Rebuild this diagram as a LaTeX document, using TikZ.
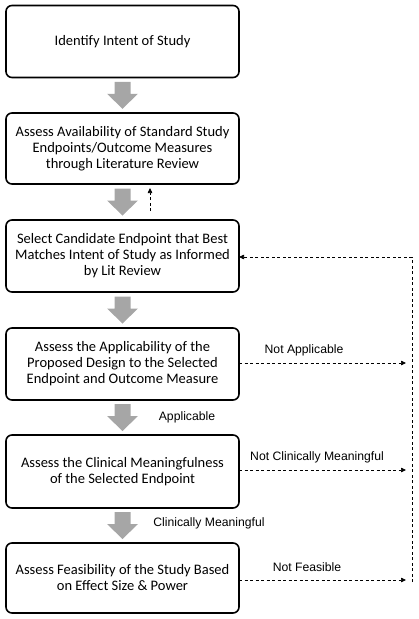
\documentclass[tikz,border=0pt]{standalone}
\usepackage{fontspec}
\setmainfont{Carlito}
\newfontfamily\labfont{Liberation Sans}
\usetikzlibrary{calc,arrows.meta}
\definecolor{garrowc}{HTML}{A6A6A6}
\tikzset{
  box/.style={draw, line width=1.6pt, rounded corners=6pt, minimum width=233pt, minimum height=72pt,
    align=center, font=\fontsize{14.5}{16}\selectfont, inner sep=2pt, outer sep=0pt},
  lab/.style={font=\labfont\fontsize{12.2}{14}\selectfont, inner sep=0pt},
  dline/.style={dashed, line width=0.7pt, dash pattern=on 3pt off 2.5pt},
  dtip/.style={-{Triangle[length=5pt,width=4.5pt]}}
}
\newcommand{\grayarrow}[2]{%
  \path (#1.south) -- (#2.north) coordinate[midway] (m#1#2);
  \fill[garrowc] ($(m#1#2)+(-8,-13.5)$) -- ($(m#1#2)+(8,-13.5)$) -- ($(m#1#2)+(8,-1.5)$) -- ($(m#1#2)+(15.5,-1.5)$)
     -- ($(m#1#2)+(0,13.5)$) -- ($(m#1#2)+(-15.5,-1.5)$) -- ($(m#1#2)+(-8,-1.5)$) -- cycle;}
\begin{document}
\begin{tikzpicture}[x=1pt,y=-1pt]
\useasboundingbox (0,0) rectangle (419,619);
\node[box] (b1) at (122.5,41.5) {Identify Intent of Study};
\node[box,minimum height=71pt] (b2) at (122.5,148.5) {Assess Availability of Standard Study\\Endpoints/Outcome Measures\\through Literature Review};
\node[box] (b3) at (122.5,256) {Select Candidate Endpoint that Best\\Matches Intent of Study as Informed\\by Lit Review};
\node[box] (b4) at (122.5,364) {Assess the Applicability of the\\Proposed Design to the Selected\\Endpoint and Outcome Measure};
\node[box,minimum height=73pt] (b5) at (122.5,471.5) {Assess the Clinical Meaningfulness\\of the Selected Endpoint};
\node[box,minimum height=70pt] (b6) at (122.5,578) {Assess Feasibility of the Study Based\\on Effect Size \& Power};

\grayarrow{b1}{b2}
\grayarrow{b2}{b3}
\grayarrow{b3}{b4}
\grayarrow{b4}{b5}
\grayarrow{b5}{b6}

% small dashed up arrow
\coordinate (up) at (150,211);
\coordinate (uptip) at (150,188);
\draw[dline,dtip] (up) -- (uptip);

% right feedback line
\coordinate (rtop) at (412,257);
\coordinate (rbot) at (412,582);
\coordinate (e4) at (406,363);
\coordinate (e5) at (406,470);
\coordinate (e6) at (406,580);
\draw[dline] (rbot) -- (rtop);
\draw[dline,dtip] (rtop) -- (rtop -| b3.east);
\draw[dline,dtip] (e4 -| b4.east) -- (e4);
\draw[dline,dtip] (e5 -| b5.east) -- (e5);
\draw[dline,dtip] (e6 -| b6.east) -- (e6);

\node[lab] (l1) at (304,350) {Not Applicable};
\node[lab] (l2) at (187,417) {Applicable};
\node[lab] (l3) at (317,457) {Not Clinically Meaningful};
\node[lab] (l4) at (209,523) {Clinically Meaningful};
\node[lab] (l5) at (307,567) {Not Feasible};
\end{tikzpicture}
\end{document}
